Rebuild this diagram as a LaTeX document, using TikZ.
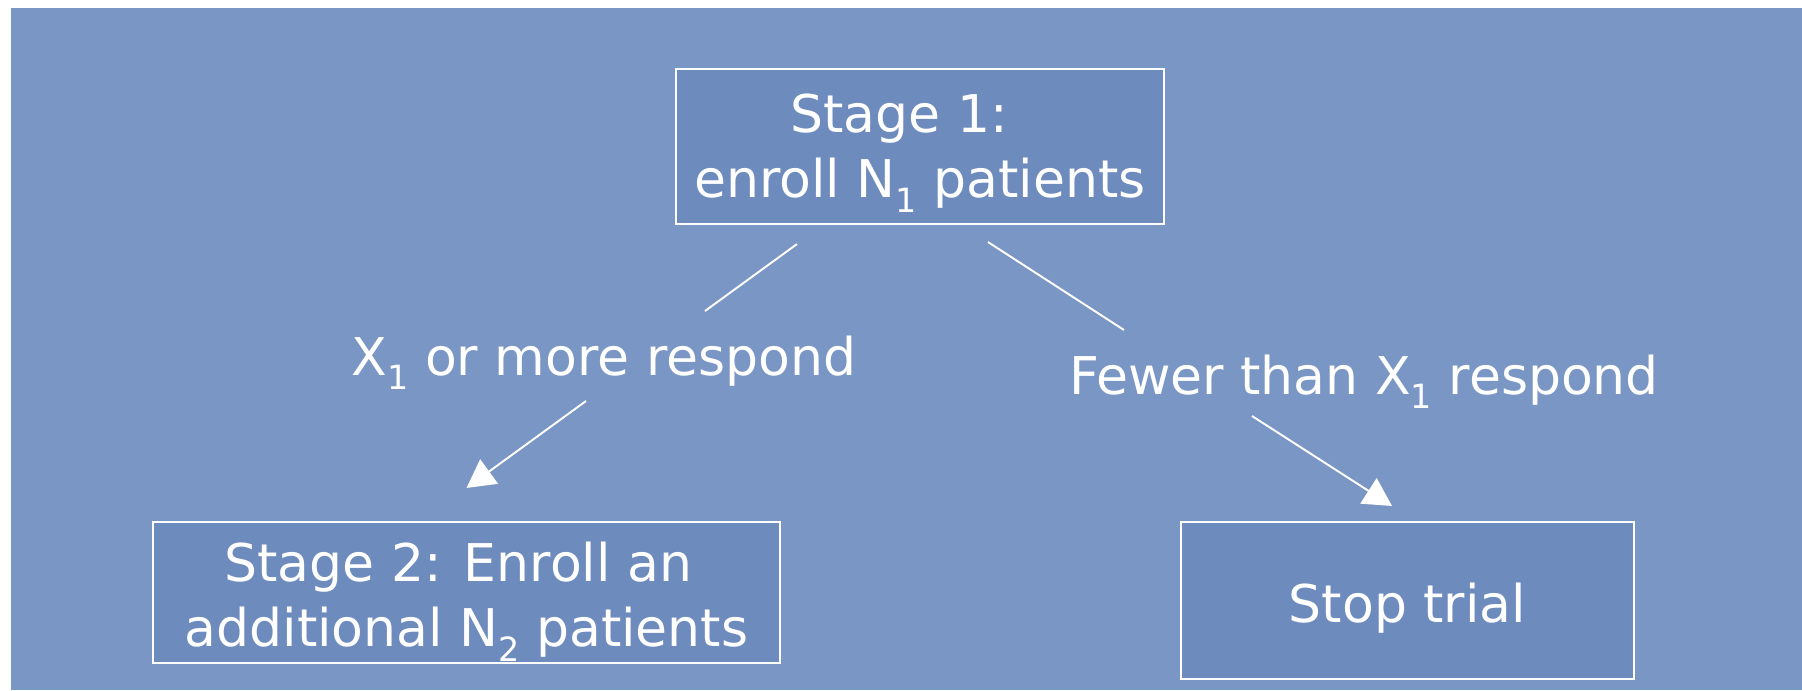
\documentclass[tikz,border=0pt]{standalone}
\usepackage{fontspec}
\setmainfont{DejaVu Sans}
\usepackage{tikz}
\usetikzlibrary{arrows.meta, calc}
\definecolor{slideblue}{RGB}{122, 150, 196}
\definecolor{boxblue}{RGB}{110, 139, 189}
\newcommand{\lowidx}[1]{\raisebox{-0.28em}{\fontsize{19}{19}\selectfont #1}}

\tikzset{
  stagebox/.style={draw=white, line width=1.2pt, fill=boxblue, align=center, inner sep=0pt, text depth=0pt},
  link/.style={white, line width=1.1pt},
  arrowlink/.style={link, -{Triangle[length=0.56cm, width=0.6cm]}}
}

\begin{document}
\begin{tikzpicture}[x=0.02cm, y=-0.02cm, every node/.style={font=\fontsize{29.6}{37}\selectfont, text=white}]

    % slide area
    \useasboundingbox (0,0) rectangle (1802,690);
    \fill[white] (0,0) rectangle (1802,690);
    \fill[slideblue] (11,8) rectangle (1802,690);

    % Stage 1
    \node[stagebox, minimum width=9.76cm, minimum height=3.1cm, text height=2.06cm]
      (s1) at (920,146.5) {Stage 1:\kern0.84cm\\ enroll N\lowidx{1} patients};

    % Stage 2 and stop
    \node[stagebox, minimum width=12.54cm, minimum height=2.82cm, text height=2.18cm]
      (s2) at (466.5,592.5) {Stage 2: Enroll an\kern0.33cm\\ additional N\lowidx{2} patients};
    \node[stagebox, minimum width=9.06cm, minimum height=3.14cm, text height=0.86cm]
      (stop) at (1407.5,600.5) {Stop trial};

    % branch labels
    \node[anchor=base] (yes) at (604,375) {X\lowidx{1} or more respond};
    \node[anchor=base] (no) at (1364,394) {Fewer than X\lowidx{1} respond};

    % line ends
    \coordinate (yesTop) at ($(s1.south)+(-123,19)$);
    \coordinate (yesMid) at ($(yes.base)+(101,-64)$);
    \coordinate (yesFrom) at ($(yes.base)+(-18,26)$);
    \coordinate (yesTip) at ($(s2.north)+(0,-33)$);
    \coordinate (noTop) at ($(s1.south)+(68,17)$);
    \coordinate (noMid) at ($(no.base)+(-240,-64)$);
    \coordinate (noFrom) at ($(no.base)+(-112,22)$);
    \coordinate (noTip) at ($(stop.north)+(-15.5,-15)$);

    % branches
    \draw[link] (yesTop) -- (yesMid);
    \draw[arrowlink] (yesFrom) -- (yesTip);
    \draw[link] (noTop) -- (noMid);
    \draw[arrowlink] (noFrom) -- (noTip);

\end{tikzpicture}
\end{document}
